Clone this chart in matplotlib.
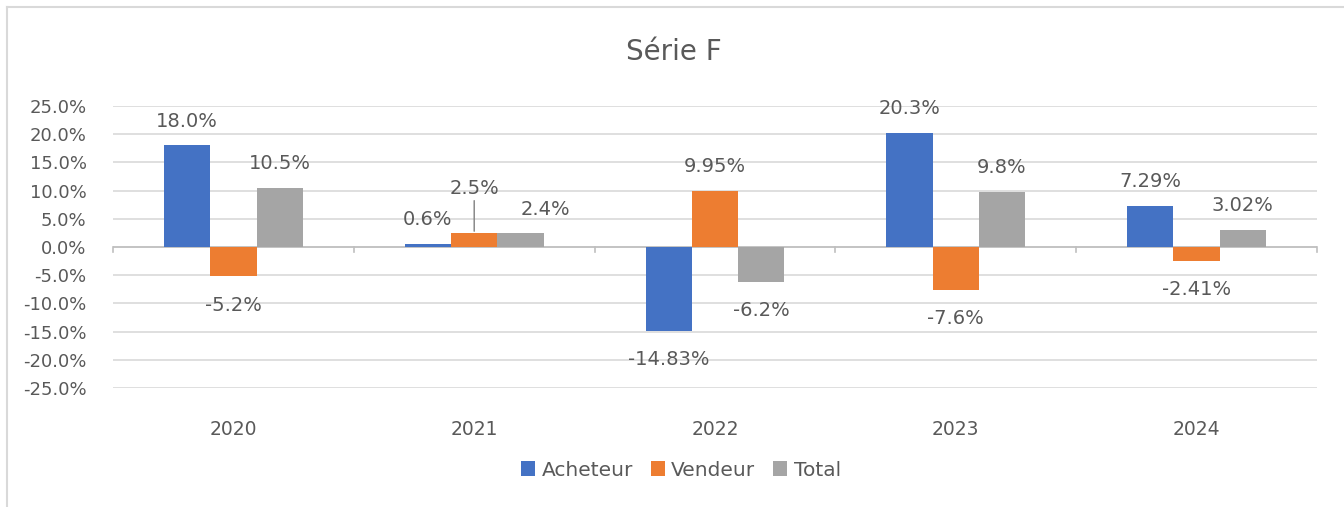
import numpy as np
import matplotlib
matplotlib.use("Agg")
import matplotlib.pyplot as plt
from matplotlib.lines import Line2D

years = ["2020", "2021", "2022", "2023", "2024"]
acheteur = [18.0, 0.6, -14.83, 20.3, 7.29]
vendeur = [-5.2, 2.5, 9.95, -7.6, -2.41]
total = [10.5, 2.4, -6.2, 9.8, 3.02]
lab_acheteur = ["18.0%", "0.6%", "-14.83%", "20.3%", "7.29%"]
lab_vendeur = ["-5.2%", "2.5%", "9.95%", "-7.6%", "-2.41%"]
lab_total = ["10.5%", "2.4%", "-6.2%", "9.8%", "3.02%"]
yticks = [25, 20, 15, 10, 5, 0, -5, -10, -15, -20, -25]

series = [("Acheteur", acheteur, lab_acheteur, "#4472C4"),
          ("Vendeur", vendeur, lab_vendeur, "#ED7D31"),
          ("Total", total, lab_total, "#A5A5A5")]

txt = "#595959"
fig = plt.figure(figsize=(13.44, 5.07), dpi=100)
ax = fig.add_axes([113/1344, 1-388/507, (1317-113)/1344, (388-106)/507])

x = np.arange(len(years))
w = 0.192
for i, (name, vals, labs, col) in enumerate(series):
    pos = x + (i - 1) * w
    ax.bar(pos, vals, width=w, color=col, label=name, zorder=3)
    for j, (p, v, s) in enumerate(zip(pos, vals, labs)):
        dx = 0
        dy = 10.5 if v >= 0 else -14
        if name == "Vendeur" and years[j] == "2021":
            ax.annotate(s, xy=(p, v + 0.3), xytext=(0, 24), textcoords="offset points",
                        ha="center", va="bottom", fontsize=14, color=txt,
                        arrowprops=dict(arrowstyle="-", color="#7F7F7F", lw=1,
                                        shrinkA=0, shrinkB=0))
            continue
        if name == "Total" and years[j] == "2021":
            dx = 18
        ax.annotate(s, xy=(p, v), xytext=(dx, dy), textcoords="offset points",
                    ha="center", va="bottom" if v >= 0 else "top",
                    fontsize=14, color=txt)

ax.set_xlim(-0.5, len(years) - 0.5)
ax.set_ylim(-25, 25)
ax.set_yticks(yticks)
ax.set_yticklabels([f"{t:.1f}%" for t in yticks])
ax.set_xticks(x)
ax.set_xticklabels(years)
ax.tick_params(axis="both", length=0, labelsize=13, colors=txt)
ax.tick_params(axis="x", pad=23, labelsize=13.5)
ax.tick_params(axis="y", pad=19)
ax.grid(axis="y", color="#D9D9D9", lw=1.2, zorder=0)
for s in ax.spines.values():
    s.set_visible(False)
ax.axhline(0, color="#BFBFBF", lw=1.2, zorder=2)
for b in np.arange(-0.5, len(years), 1.0):
    ax.plot([b, b], [0, -0.8], color="#BFBFBF", lw=1.2, zorder=2, clip_on=False)

fig.text(674/1344, 1-52/507, "Série F", fontsize=20, color=txt, ha="center", va="center")

leg = fig.legend(loc="center", bbox_to_anchor=(681/1344, 1-470/507), ncol=3,
                 frameon=False, fontsize=14.5, handlelength=0.7, handleheight=0.7,
                 handletextpad=0.3, columnspacing=0.9)
for t in leg.get_texts():
    t.set_color(txt)

fig.add_artist(Line2D([7/1344, 1.0], [1-7/507, 1-7/507], color="#D9D9D9", lw=1.5,
                      transform=fig.transFigure))
fig.add_artist(Line2D([7/1344, 7/1344], [0, 1-7/507], color="#D9D9D9", lw=1.5,
                      transform=fig.transFigure))

fig.savefig("out.png", dpi=100, facecolor="white")
